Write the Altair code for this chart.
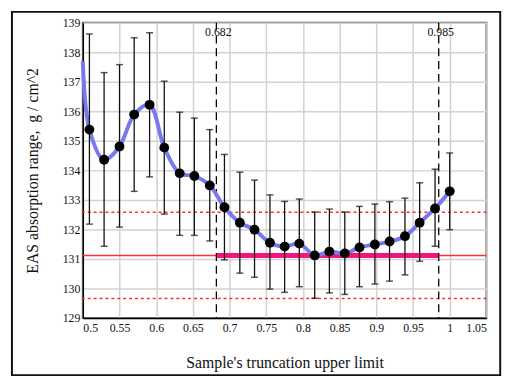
import altair as alt
import pandas as pd

# ---- data ----
xs = [0.509, 0.529, 0.550, 0.570, 0.591, 0.611, 0.632, 0.652, 0.673, 0.693, 0.714, 0.734,
      0.755, 0.775, 0.795, 0.816, 0.836, 0.857, 0.877, 0.898, 0.918, 0.939, 0.959, 0.980, 1.000]
y_mean = [135.38, 134.36, 134.81, 135.89, 136.22, 134.77, 133.90, 133.81, 133.49, 132.75,
          132.23, 131.99, 131.55, 131.42, 131.52, 131.12, 131.25, 131.19, 131.39, 131.49,
          131.59, 131.77, 132.23, 132.71, 133.29]
y_hi = [138.62, 137.31, 137.58, 138.49, 138.66, 137.02, 135.97, 135.77, 135.38, 134.54,
        133.94, 133.67, 133.17, 132.95, 133.03, 132.59, 132.69, 132.59, 132.78, 132.86,
        132.94, 133.06, 133.58, 134.04, 134.59]
y_lo = [132.18, 131.43, 132.08, 133.29, 133.78, 132.52, 131.80, 131.80, 131.61, 130.97,
        130.52, 130.38, 129.98, 129.87, 130.06, 129.67, 129.85, 129.80, 130.06, 130.15,
        130.25, 130.46, 130.92, 131.43, 131.99]
curve_start_x = 0.5
curve_start_y = 137.7
mean_level = 131.12
band_levels = [132.58, 129.66]
cut_lo, cut_hi = 0.682, 0.985
x_ticks = [0.5, 0.55, 0.6, 0.65, 0.7, 0.75, 0.8, 0.85, 0.9, 0.95, 1.0, 1.05]
y_ticks = [129, 130, 131, 132, 133, 134, 135, 136, 137, 138, 139]

pts = pd.DataFrame({"x": xs, "y": y_mean, "hi": y_hi, "lo": y_lo})
curve = pd.DataFrame({"x": [curve_start_x] + xs, "y": [curve_start_y] + y_mean})
cuts = pd.DataFrame({"x": [cut_lo, cut_hi], "label": [f"{cut_lo}", f"{cut_hi}"]})
bands = pd.DataFrame({"y": band_levels})
mean_df = pd.DataFrame({"y": [mean_level]})
seg = pd.DataFrame({"x": [cut_lo], "x2": [cut_hi], "y": [mean_level]})

FONT = "Times New Roman, Liberation Serif, serif"
xs_scale = alt.Scale(domain=[0.5, 1.05], nice=False, zero=False)
ys_scale = alt.Scale(domain=[129, 139], nice=False, zero=False)

x_axis = alt.Axis(values=x_ticks, format="~g", title="Sample's truncation upper limit",
                  ticks=False, labelPadding=5, titlePadding=21, labelOverlap=False,
                  labelFont=FONT, titleFont=FONT)
y_axis = alt.Axis(values=y_ticks, title="EAS absorption range,\u00a0 g / cm^2",
                  ticks=False, labelPadding=3, titlePadding=22, labelOverlap=False,
                  labelFont=FONT, titleFont=FONT)
X = alt.X("x:Q", scale=xs_scale, axis=x_axis)
Y = alt.Y("y:Q", scale=ys_scale, axis=y_axis)

frame = alt.Chart(pd.DataFrame({"a": [0]})).mark_rect(
    fillOpacity=0, stroke="#111", strokeWidth=2
).encode(x=alt.value(-72), x2=alt.value(424), y=alt.value(-11), y2=alt.value(358))

band_rules = alt.Chart(bands).mark_rule(color="#ff3030", strokeDash=[3, 3], strokeWidth=1.5).encode(y=Y)
mean_rule = alt.Chart(mean_df).mark_rule(color="#ff3030", strokeWidth=1.5).encode(y=Y)
seg_rule = alt.Chart(seg).mark_rule(color="#f5147c", strokeWidth=5).encode(x=X, x2="x2:Q", y=Y)
cut_rules = alt.Chart(cuts).mark_rule(color="#000", strokeDash=[8, 5], strokeWidth=1.3).encode(x=X)
cut_text = alt.Chart(cuts).mark_text(font=FONT, fontSize=12, baseline="middle", dx=2, color="#111").encode(
    x=X, y=alt.value(9), text="label:N")

line = alt.Chart(curve).mark_line(color="#7878f0", strokeWidth=4, interpolate="catmull-rom").encode(x=X, y=Y)
err = alt.Chart(pts).mark_rule(color="#111", strokeWidth=1.3).encode(
    x=X, y=alt.Y("lo:Q", scale=ys_scale, axis=y_axis), y2="hi:Q")
cap_hi = alt.Chart(pts).mark_tick(color="#111", orient="horizontal", size=7, thickness=1.5).encode(
    x=X, y=alt.Y("hi:Q", scale=ys_scale, axis=y_axis))
cap_lo = alt.Chart(pts).mark_tick(color="#111", orient="horizontal", size=7, thickness=1.5).encode(
    x=X, y=alt.Y("lo:Q", scale=ys_scale, axis=y_axis))
dots = alt.Chart(pts).mark_circle(color="#000", size=100, opacity=1).encode(x=X, y=Y)

chart = alt.layer(
    frame, band_rules, mean_rule, seg_rule, cut_rules, cut_text, line, err, cap_hi, cap_lo, dots
).properties(
    width=410, height=300,
    autosize=alt.AutoSizeParams(type="none"),
    padding={"left": 76, "top": 12, "right": 27, "bottom": 60},
).configure_view(
    stroke="#666", strokeWidth=2
).configure_axis(
    labelFont=FONT, titleFont=FONT, labelFontSize=12, titleFontSize=16,
    titleFontWeight="normal", labelColor="#111", titleColor="#111",
    domainColor="#000", domainWidth=1.5, gridColor="#d2d2d2", gridWidth=1.5,
)

chart.save("out.html", embed_options={"renderer": "svg", "actions": False})
